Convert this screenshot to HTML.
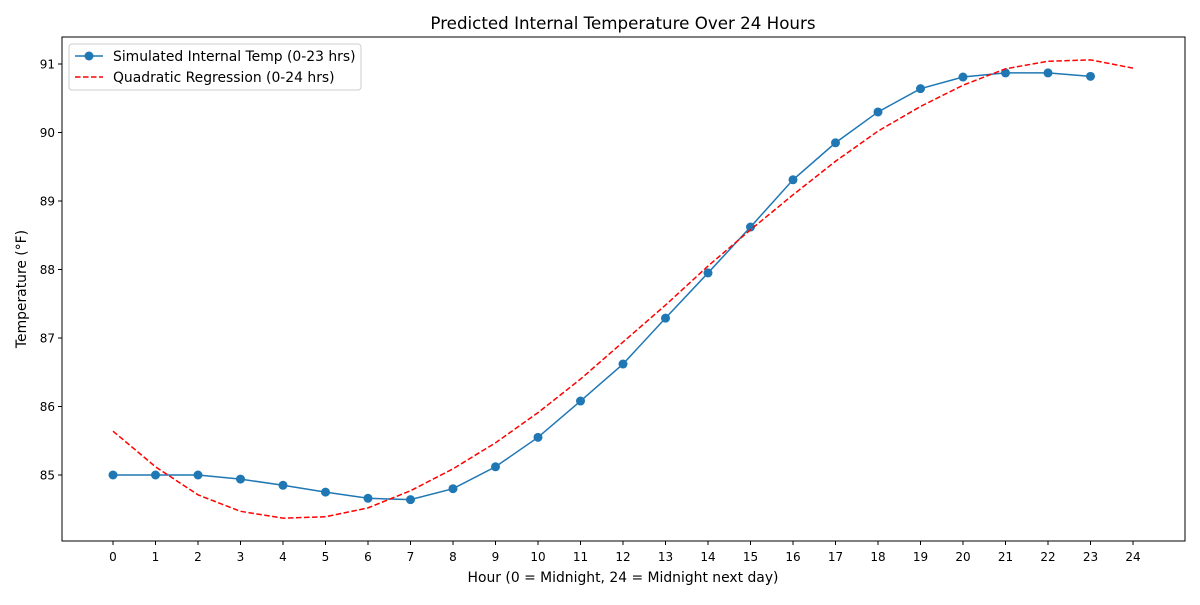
<!DOCTYPE html>
<html><head><meta charset="utf-8"><style>
body{margin:0;background:#fff;font-family:"Liberation Sans","DejaVu Sans",sans-serif}
svg text{font-family:"DejaVu Sans","Liberation Sans",sans-serif;fill:#000}
</style></head><body>
<svg id="chart" width="1200" height="600"></svg>
<script>
const hours=[0,1,2,3,4,5,6,7,8,9,10,11,12,13,14,15,16,17,18,19,20,21,22,23];
const simTemp=[85.0,85.0,85.0,84.94,84.85,84.75,84.66,84.64,84.80,85.12,85.55,86.08,86.62,87.29,87.95,88.62,89.31,89.85,90.30,90.64,90.81,90.87,90.87,90.82];
const regHours=[0,1,2,3,4,5,6,7,8,9,10,11,12,13,14,15,16,17,18,19,20,21,22,23,24];
const regTemp=[85.64,85.12,84.71,84.47,84.37,84.39,84.52,84.77,85.09,85.47,85.91,86.40,86.94,87.48,88.05,88.58,89.09,89.58,90.02,90.38,90.69,90.93,91.04,91.06,90.94];
const xTicks=[0,1,2,3,4,5,6,7,8,9,10,11,12,13,14,15,16,17,18,19,20,21,22,23,24];
const yTicks=[85,86,87,88,89,90,91];

const NS="http://www.w3.org/2000/svg";
const svg=document.getElementById('chart');
const L=62,R=1185,T=37,B=541;
const xs=h=>113+h*42.5;
const ys=v=>475-(v-85)*68.5;
function mk(tag,at,parent){const e=document.createElementNS(NS,tag);for(const k in at)e.setAttribute(k,at[k]);(parent||svg).appendChild(e);return e;}

let e=mk('text',{x:623,y:29,'text-anchor':'middle','font-size':16.7});e.textContent='Predicted Internal Temperature Over 24 Hours';


e=mk('rect',{x:L,y:T,width:R-L,height:B-T,fill:'none',stroke:'#000','stroke-width':1});



xTicks.forEach(t=>{
  const x=xs(t);
  const g=mk('g',{});
  
  
  mk('line',{x1:x,x2:x,y1:B,y2:B+4,stroke:'#000'},g);
  const tx=mk('text',{x:x,y:B+20,'text-anchor':'middle','font-size':12},g);tx.textContent=t;
});
yTicks.forEach(t=>{
  const y=ys(t);
  const g=mk('g',{});
  
  
  mk('line',{x1:L-4,x2:L,y1:y,y2:y,stroke:'#000'},g);
  const tx=mk('text',{x:L-7,y:y+4.5,'text-anchor':'end','font-size':12},g);tx.textContent=t;
});
e=mk('text',{x:623,y:582,'text-anchor':'middle','font-size':13.9});e.textContent='Hour (0 = Midnight, 24 = Midnight next day)';


e=mk('text',{x:26,y:(T+B)/2,'text-anchor':'middle','font-size':13.9,transform:`rotate(-90 26 ${(T+B)/2})`});e.textContent='Temperature (°F)';



e=mk('polyline',{points:hours.map((h,i)=>xs(h)+','+ys(simTemp[i])).join(' '),fill:'none',stroke:'#1f77b4','stroke-width':1.5});


hours.forEach((h,i)=>{
  const c=mk('circle',{cx:xs(h),cy:ys(simTemp[i]),r:4.5,fill:'#1f77b4'});
  
  
});
e=mk('polyline',{points:regHours.map((h,i)=>xs(h)+','+ys(regTemp[i])).join(' '),fill:'none',stroke:'#ff0000','stroke-width':1.5,'stroke-dasharray':'5.5,2.5'});



const lg=mk('g',{});


mk('rect',{x:69,y:44,width:292,height:46,rx:3,fill:'#fff',stroke:'#ccc'},lg);
mk('line',{x1:75,x2:103,y1:56,y2:56,stroke:'#1f77b4','stroke-width':1.5},lg);
mk('circle',{cx:89,cy:56,r:4.5,fill:'#1f77b4'},lg);
let t1=mk('text',{x:113,y:61,'font-size':13.9},lg);t1.textContent='Simulated Internal Temp (0-23 hrs)';
mk('line',{x1:75,x2:103,y1:77,y2:77,stroke:'#ff0000','stroke-width':1.5,'stroke-dasharray':'5.5,2.5'},lg);
let t2=mk('text',{x:113,y:82,'font-size':13.9},lg);t2.textContent='Quadratic Regression (0-24 hrs)';
</script>
</body></html>
